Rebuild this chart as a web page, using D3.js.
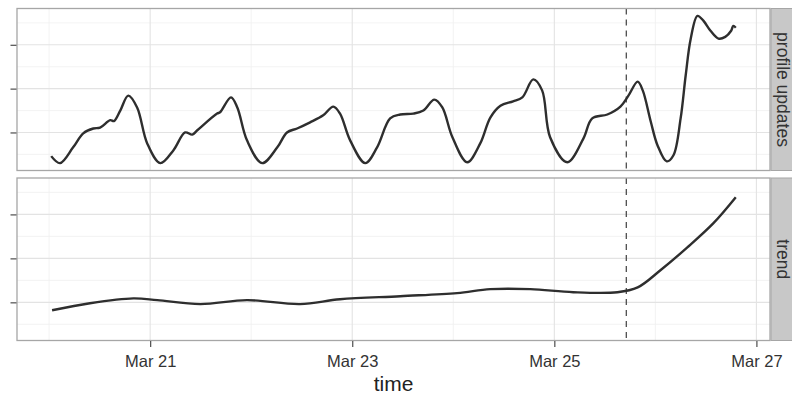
<!DOCTYPE html>
<html><head><meta charset="utf-8">
<script src="https://cdn.jsdelivr.net/npm/d3@7"></script>
<style>body{margin:0;background:#fff;} svg{display:block;font-family:"Liberation Sans",Arial,sans-serif;}</style>
</head><body>
<svg id="chart" width="792" height="395"></svg>
<script>
// ---- data ----
const baseDate = "2015-03-20T00:00:00Z";           // hour offsets are counted from here
const facetLabels = ["profile updates", "trend"];
const profileHours = [0.5,2.6,5.7,8.1,10.5,12.1,14.5,15.4,16.9,18.8,20.9,23.3,26.4,29.5,32.3,34.0,35.2,39.9,40.6,43.2,44.7,47.0,50.6,54.2,56.5,58.9,62.0,65.1,67.5,69.1,71.5,75.1,77.9,81.0,83.4,86.5,88.9,91.5,93.4,95.8,99.3,102.4,104.8,107.2,110.2,112.4,115.0,117.1,119.0,123.1,126.9,129.0,132.6,135.7,137.6,139.8,141.0,142.9,144.5,146.7,148.3,150.0,151.2,152.4,154.0,155.4,157.1,159.0,160.6,162.0,162.5,163.1];
const profileValues = [0.46,0.30,0.66,0.98,1.09,1.11,1.28,1.26,1.50,1.84,1.57,0.75,0.30,0.59,1.00,0.95,1.05,1.43,1.46,1.80,1.57,0.82,0.30,0.66,1.00,1.09,1.23,1.39,1.59,1.43,0.82,0.30,0.66,1.32,1.41,1.43,1.50,1.75,1.57,0.89,0.32,0.75,1.34,1.61,1.71,1.80,2.21,1.96,0.89,0.32,0.86,1.32,1.41,1.59,1.84,2.16,1.96,1.25,0.71,0.34,0.48,1.32,2.30,3.14,3.66,3.55,3.32,3.14,3.18,3.32,3.43,3.39];
const trendHours = [0.7,9.7,20.0,25.7,35.9,47.0,59.6,69.1,83.4,96.9,104.8,114.3,124.5,135.0,139.8,145.2,151.6,157.8,163.1];
const trendValues = [0.82,0.98,1.09,1.05,0.96,1.05,0.96,1.07,1.14,1.21,1.30,1.30,1.23,1.23,1.34,1.73,2.25,2.80,3.39];
const eventHour = 137.1;                            // dashed vertical marker
const xTickDates = ["2015-03-21","2015-03-23","2015-03-25","2015-03-27"];
const xTickLabels = ["Mar 21","Mar 23","Mar 25","Mar 27"];
const xMinorDates = ["2015-03-20","2015-03-22","2015-03-24","2015-03-26"];
const yTickValues = [1,2,3];
const yMinorValues = [0.5,1.5,2.5,3.5];
const xTitle = "time";

// ---- layout ----
const svg = d3.select("#chart");
const left = 17, right = 770;
const panels = [{top:8.5, bottom:170.5}, {top:178, bottom:340.5}];
const base = new Date(baseDate);
const toDate = h => new Date(base.getTime() + h*3600e3);

const allH = profileHours.concat(trendHours);
const hExt = d3.extent(allH), hPad = (hExt[1]-hExt[0])*0.05;
const x = d3.scaleUtc().domain([toDate(hExt[0]-hPad), toDate(hExt[1]+hPad)]).range([left, right]);
const allV = profileValues.concat(trendValues);
const vExt = d3.extent(allV), vPad = (vExt[1]-vExt[0])*0.05;

const series = [
  profileHours.map((h,i)=>({t:toDate(h), v:profileValues[i]})),
  trendHours.map((h,i)=>({t:toDate(h), v:trendValues[i]}))
];

panels.forEach((p, pi) => {
  const y = d3.scaleLinear().domain([vExt[0]-vPad, vExt[1]+vPad]).range([p.bottom, p.top]);
  const g = svg.append("g");
  g.append("rect").attr("x",left).attr("y",p.top).attr("width",right-left).attr("height",p.bottom-p.top).attr("fill","#fff");
  // minor grid
  g.selectAll(".mx").data(xMinorDates).join("line")
    .attr("x1",d=>x(new Date(d+"T00:00:00Z"))).attr("x2",d=>x(new Date(d+"T00:00:00Z")))
    .attr("y1",p.top).attr("y2",p.bottom).attr("stroke","#f0f0f0").attr("stroke-width",0.8);
  g.selectAll(".my").data(yMinorValues).join("line")
    .attr("x1",left).attr("x2",right).attr("y1",d=>y(d)).attr("y2",d=>y(d))
    .attr("stroke","#f0f0f0").attr("stroke-width",0.8);
  // major grid
  g.selectAll(".gx").data(xTickDates).join("line")
    .attr("x1",d=>x(new Date(d+"T00:00:00Z"))).attr("x2",d=>x(new Date(d+"T00:00:00Z")))
    .attr("y1",p.top).attr("y2",p.bottom).attr("stroke","#e3e3e3").attr("stroke-width",1.1);
  g.selectAll(".gy").data(yTickValues).join("line")
    .attr("x1",left).attr("x2",right).attr("y1",d=>y(d)).attr("y2",d=>y(d))
    .attr("stroke","#e3e3e3").attr("stroke-width",1.1);
  // event line
  g.append("line").attr("x1",x(toDate(eventHour))).attr("x2",x(toDate(eventHour)))
    .attr("y1",p.top).attr("y2",p.bottom).attr("stroke","#4d4d4d").attr("stroke-width",1.3)
    .attr("stroke-dasharray","6,5");
  // series line
  const line = d3.line().x(d=>x(d.t)).y(d=>y(d.v)).curve(d3.curveCatmullRom.alpha(0.5));
  g.append("path").datum(series[pi]).attr("d",line).attr("fill","none")
    .attr("stroke","#2e2e2e").attr("stroke-width",2.4).attr("stroke-linejoin","round");
  // border
  g.append("rect").attr("x",left).attr("y",p.top).attr("width",right-left).attr("height",p.bottom-p.top)
    .attr("fill","none").attr("stroke","#a6a6a6").attr("stroke-width",1.3);
  // y axis (ticks only)
  const ya = g.append("g").attr("transform",`translate(${left-0.5},0)`)
    .call(d3.axisLeft(y).tickValues(yTickValues).tickSize(6).tickFormat(()=>""));
  ya.select(".domain").remove();
  ya.selectAll("line").attr("stroke","#4d4d4d").attr("stroke-width",1.2);
  // strip
  g.append("rect").attr("x",right+1).attr("y",p.top).attr("width",30).attr("height",p.bottom-p.top)
    .attr("fill","#c8c8c8").attr("stroke","#a6a6a6").attr("stroke-width",1);
  g.append("text").attr("transform",`translate(783,${(p.top+p.bottom)/2}) rotate(90)`)
    .attr("text-anchor","middle").attr("dominant-baseline","central")
    .attr("font-size",17.5).attr("fill","#333").text(facetLabels[pi]);
});

// x axis
const xa = svg.append("g").attr("transform",`translate(0,${panels[1].bottom+0.5})`)
  .call(d3.axisBottom(x).tickValues(xTickDates.map(d=>new Date(d+"T00:00:00Z"))).tickSize(6).tickPadding(8)
  .tickFormat((d,i)=>xTickLabels[i]));
xa.select(".domain").remove();
xa.selectAll("line").attr("stroke","#4d4d4d").attr("stroke-width",1.2);
xa.selectAll("text").attr("font-size",16.5).attr("fill","#333").attr("font-family","Liberation Sans, Arial, sans-serif");

svg.append("text").attr("x",(left+right)/2).attr("y",391).attr("text-anchor","middle")
  .attr("font-size",21).attr("fill","#222").text(xTitle);
</script>
</body></html>
